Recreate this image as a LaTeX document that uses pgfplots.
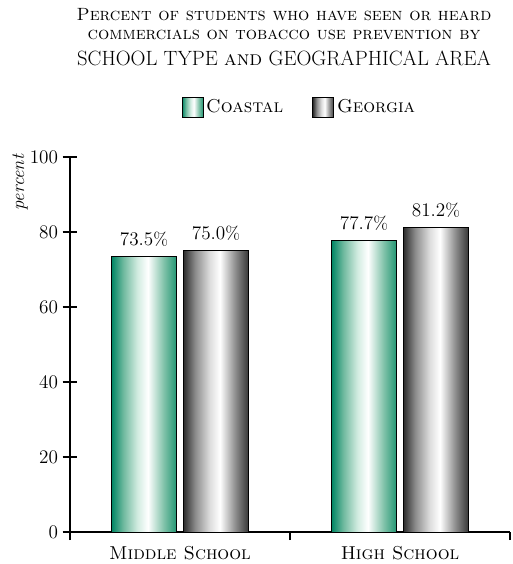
\documentclass[border=0pt]{standalone}
\usepackage{pgfplots}
\pgfplotsset{compat=1.18}
\definecolor{tealD}{RGB}{0,133,100}
\definecolor{tealM}{RGB}{110,185,158}
\definecolor{tealL}{RGB}{210,236,225}
\definecolor{tealR}{RGB}{35,150,115}
\definecolor{tealRM}{RGB}{130,195,170}
\definecolor{grayD}{RGB}{45,45,45}
\definecolor{grayM}{RGB}{140,140,140}
\definecolor{grayL}{RGB}{220,220,220}
\definecolor{grayR}{RGB}{55,55,55}
\pgfdeclarehorizontalshading{coastal}{100bp}{color(0bp)=(tealD); color(25bp)=(tealD); color(34bp)=(tealM); color(45bp)=(tealL); color(53bp)=(white); color(65bp)=(tealRM); color(75bp)=(tealR); color(100bp)=(tealR)}
\pgfdeclarehorizontalshading{georgia}{100bp}{color(0bp)=(grayD); color(25bp)=(grayD); color(34bp)=(grayM); color(45bp)=(grayL); color(53bp)=(white); color(65bp)=(grayM); color(75bp)=(grayR); color(100bp)=(grayR)}
\pgfplotsset{
  coastalbar/.style={ybar, bar width=48.75pt, bar shift=-27pt, draw=black, line width=0.7pt, shading=coastal,
    legend image code/.code={\draw[line width=0.7pt, shading=coastal] (0pt,-7.5pt) rectangle (15.75pt,7.5pt);}},
  georgiabar/.style={ybar, bar width=48.75pt, bar shift=27pt, draw=black, line width=0.7pt, shading=georgia,
    legend image code/.code={\draw[line width=0.7pt, shading=georgia] (0pt,-7.5pt) rectangle (15.75pt,7.5pt);}},
}
\begin{document}
\begin{tikzpicture}
\useasboundingbox (-52.5pt,-24pt) rectangle (331.5pt,399pt);
\begin{axis}[
  at={(0,0)}, anchor=south west,
  scale only axis, width=330pt, height=281.25pt,
  xmin=0, xmax=2, ymin=0, ymax=100,
  ybar,
  axis lines=left, axis line style={-, line width=1.5pt},
  ytick={0,20,40,60,80,100},
  ytick style={line width=1.5pt, black},
  tick align=center, major tick length=11pt,
  yticklabel style={font=\fontsize{14.5}{16}\selectfont},
  xtick={0.5,1.5},
  xticklabels={\textsc{Middle School},\textsc{High School}},
  xtick style={draw=none},
  xticklabel style={font=\fontsize{14}{16}\selectfont, yshift=-2pt},
  extra x ticks={0,1,2},
  extra x tick labels={},
  extra x tick style={tick align=outside, major tick length=6pt, xtick style={draw=black, line width=1.5pt}},
  nodes near coords={\pgfmathprintnumber[fixed,fixed zerofill,precision=1]{\pgfplotspointmeta}\%},
  every node near coord/.append style={font=\fontsize{13.5}{15}\selectfont, black, yshift=4pt},
  legend columns=2,
  legend style={at={(0.522,1.133)}, anchor=center, draw=none, font=\fontsize{14}{16}\selectfont,
    /tikz/every even column/.append style={column sep=20pt}},
]
\addplot[coastalbar] coordinates {(0.5,73.5)};
\addlegendentry{\textsc{Coastal}}
\addplot[georgiabar] coordinates {(0.5,75.0)};
\addlegendentry{\textsc{Georgia}}
\addplot[coastalbar, forget plot] coordinates {(1.5,77.7)};
\addplot[georgiabar, forget plot] coordinates {(1.5,81.2)};
\end{axis}
\node[font=\fontsize{13.3}{15}\selectfont] at (160.5pt,387.75pt) {\textsc{Percent of students who have seen or heard}};
\node[font=\fontsize{13.3}{15}\selectfont] at (160.5pt,372.75pt) {\textsc{commercials on tobacco use prevention by}};
\node[font=\fontsize{15.5}{17}\selectfont] at (160.5pt,355.5pt) {SCHOOL TYPE \textsc{and} GEOGRAPHICAL AREA};
\node[rotate=90, font=\fontsize{14}{16}\selectfont\itshape] at (-37.5pt,262pt) {percent};
\end{tikzpicture}
\end{document}
